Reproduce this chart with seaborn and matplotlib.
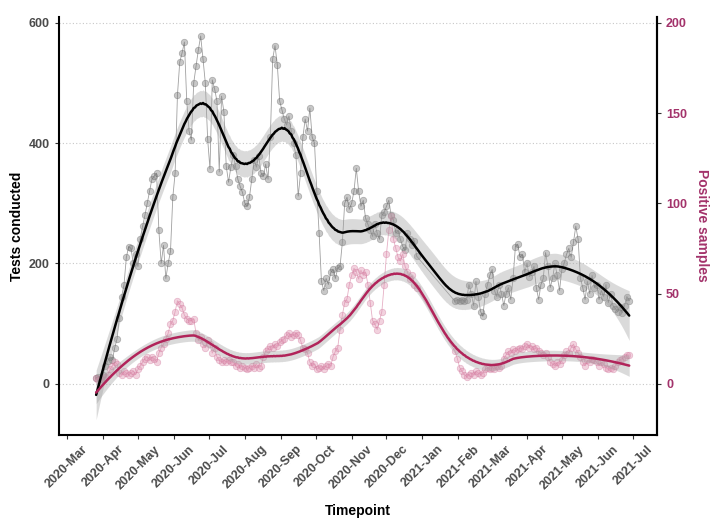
import numpy as np
import pandas as pd
import matplotlib
matplotlib.use("Agg")
import matplotlib.pyplot as plt
import matplotlib.dates as mdates
import seaborn as sns

# sampling dates (every second day); no samples over the new year
dates_2020 = pd.date_range("2020-03-26", "2020-12-27", freq="2D")
dates_2021 = pd.date_range("2021-01-29", "2021-06-28", freq="2D")

tests_2020 = [
    10, 12, 8, 15, 30, 38, 45, 40, 60, 75, 110, 145, 165, 210, 228, 225, 200, 215, 195, 240,
    262, 280, 300, 320, 340, 345, 350, 255, 200, 230, 175, 200, 220, 310, 350, 480, 535, 550, 568, 470,
    420, 405, 500, 528, 555, 578, 540, 500, 407, 357, 505, 490, 470, 352, 478, 452, 362, 335, 360, 380,
    362, 340, 328, 318, 300, 295, 310, 340, 372, 360, 378, 350, 345, 365, 340, 410, 540, 562, 530, 470,
    455, 440, 430, 445, 420, 400, 380, 312, 350, 410, 440, 420, 458, 410, 400, 320, 250, 170, 155, 175,
    165, 185, 190, 175, 192, 195, 235, 300, 310, 290, 300, 320, 358, 320, 295, 305, 275, 265, 255, 245,
    265, 250, 240, 280, 285, 295, 305, 280, 272, 250, 255, 240, 228, 222, 250, 240, 230, 238, 212,
]
tests_2021 = [
    137, 140, 138, 140, 137, 140, 165, 150, 130, 170, 145, 120, 112, 150, 165, 180, 190, 155, 145, 165,
    150, 130, 150, 160, 140, 175, 228, 232, 210, 215, 185, 200, 178, 185, 195, 160, 140, 165, 175, 218,
    195, 160, 175, 200, 180, 155, 190, 200, 215, 225, 210, 235, 262, 240, 175, 160, 140, 170, 150, 180,
    160, 165, 140, 155, 145, 165, 135, 150, 130, 125, 120, 128, 118, 130, 145, 138,
]
positives_2020 = [
    3, 2, 3, 2, 4, 5, 8, 10, 12, 11, 6, 5, 7, 6, 5, 6, 7, 5, 8, 10,
    12, 14, 15, 13, 15, 14, 12, 17, 20, 22, 25, 28, 33, 35, 40, 46, 44, 42, 38, 36,
    35, 35, 36, 28, 24, 26, 22, 20, 24, 22, 17, 20, 15, 13, 12, 13, 12, 13, 12, 12,
    10, 11, 9, 10, 9, 8, 9, 10, 9, 11, 9, 10, 15, 18, 19, 21, 20, 22, 21, 23,
    24, 25, 27, 28, 26, 27, 28, 27, 24, 20, 19, 17, 12, 10, 11, 8, 9, 10, 8, 10,
    11, 10, 15, 18, 20, 30, 38, 45, 47, 55, 60, 64, 62, 58, 63, 60, 62, 55, 45, 35,
    33, 30, 35, 40, 55, 72, 85, 93, 80, 75, 70, 68, 72, 65, 62, 58, 60, 55, 53,
]
positives_2021 = [
    18, 14, 9, 7, 5, 4, 5, 6, 5, 7, 6, 5, 6, 8, 9, 8, 9, 8, 10, 9,
    10, 14, 16, 18, 17, 19, 18, 19, 20, 19, 21, 22, 20, 21, 19, 20, 18, 17, 16, 17,
    15, 12, 11, 10, 12, 11, 13, 16, 18, 17, 20, 22, 19, 17, 15, 12, 10, 13, 12, 14,
    13, 12, 10, 12, 11, 9, 8, 9, 8, 10, 12, 13, 14, 15, 16, 16,
]

SCALE = 3  # positives share the axis with tests (secondary axis = tests / 3)

df = pd.DataFrame({
    "date": dates_2020.append(dates_2021),
    "tests": tests_2020 + tests_2021,
    "positives": positives_2020 + positives_2021,
})
df["positives_scaled"] = df["positives"] * SCALE


def loess(x, y, grid, span):
    # local quadratic fit with tricube weights (like R's loess) + 95% band
    q = int(np.ceil(span * len(x)))

    def weights(g):
        d = np.abs(x - g)
        h = np.sort(d)[q - 1]
        w = np.clip(1 - (d / h) ** 3, 0, None) ** 3
        X = np.vander(x - g, 3, increasing=True)
        W = X.T * w
        return np.linalg.solve(W @ X, W)[0]

    L = np.array([weights(g) for g in x])
    resid = y - L @ y
    dof = len(y) - 2 * np.trace(L) + np.trace(L.T @ L)
    sigma = np.sqrt(resid @ resid / dof)
    fit, se = [], []
    for g in grid:
        l = weights(g)
        fit.append(l @ y)
        se.append(sigma * np.sqrt(l @ l))
    fit, se = np.array(fit), np.array(se)
    return fit, fit - 1.96 * se, fit + 1.96 * se


day = (df["date"] - df["date"].min()).dt.days.to_numpy(dtype=float)
grid_day = np.linspace(day.min(), day.max(), 400)
grid_date = df["date"].min() + pd.to_timedelta(grid_day, unit="D")

t_fit, t_lo, t_hi = loess(day, df["tests"].to_numpy(float), grid_day, 0.3)
p_fit, p_lo, p_hi = loess(day, df["positives_scaled"].to_numpy(float), grid_day, 0.4)
smooth = pd.DataFrame({"date": grid_date, "tests": t_fit, "positives": p_fit})

sns.set_theme(style="white")
plt.rcParams["font.family"] = ["Liberation Sans", "DejaVu Sans"]
plt.rcParams["font.weight"] = "bold"

fig, ax = plt.subplots(figsize=(7.15, 5.24), dpi=100)
fig.subplots_adjust(left=0.0825, right=0.919, bottom=0.17, top=0.968)

for v in [0, 200, 400, 600]:
    ax.axhline(v, color="#c8c8c8", ls=(0, (1, 2)), lw=0.8, zorder=0)

# raw data: thin connecting lines + translucent points
sns.lineplot(data=df, x="date", y="tests", ax=ax, color="#a0a0a0", lw=0.6, zorder=1)
sns.scatterplot(data=df, x="date", y="tests", ax=ax, color="#7a7a7a", alpha=0.42,
                s=22, edgecolor="#5a5a5a", linewidth=0.5, zorder=2)
sns.lineplot(data=df, x="date", y="positives_scaled", ax=ax, color="#e6b0c5", lw=0.6, zorder=1)
sns.scatterplot(data=df, x="date", y="positives_scaled", ax=ax, color="#e094b2", alpha=0.42,
                s=22, edgecolor="#cc6e94", linewidth=0.5, zorder=2)

# smoothed trends with confidence bands
ax.fill_between(grid_date, t_lo, t_hi, color="#a0a0a0", alpha=0.38, lw=0, zorder=3)
ax.fill_between(grid_date, p_lo, p_hi, color="#a0a0a0", alpha=0.38, lw=0, zorder=3)
sns.lineplot(data=smooth, x="date", y="tests", ax=ax, color="black", lw=1.8, zorder=4)
sns.lineplot(data=smooth, x="date", y="positives", ax=ax, color="#b1245a", lw=1.8, zorder=4)

ax.set_xlim(pd.Timestamp("2020-02-23"), pd.Timestamp("2021-07-22"))
ax.set_ylim(-85, 610)
ax.set_yticks([0, 200, 400, 600])
ax.xaxis.set_major_locator(mdates.MonthLocator())
ax.xaxis.set_major_formatter(mdates.DateFormatter("%Y-%b"))

ax.tick_params(axis="both", which="major", length=3, width=0.8,
               color="#333333", labelcolor="#4a4a4a", bottom=True, left=True)
ax.tick_params(axis="x", labelsize=9, pad=3)
ax.tick_params(axis="y", labelsize=9)
for lab in ax.get_xticklabels():
    lab.set_rotation(45)
    lab.set_ha("center")
    lab.set_fontweight("bold")
for lab in ax.get_yticklabels():
    lab.set_fontweight("bold")

for side in ["left", "bottom", "right"]:
    ax.spines[side].set_visible(True)
    ax.spines[side].set_color("black")
    ax.spines[side].set_linewidth(1.5)
ax.spines["top"].set_visible(False)

ax.set_xlabel("Timepoint", fontsize=10, fontweight="bold", color="black")
ax.xaxis.set_label_coords(0.5, -0.165)
ax.set_ylabel("Tests conducted", fontsize=10, fontweight="bold", color="black")
ax.yaxis.set_label_coords(-0.058, 0.5)

pink = "#a3336b"
sec = ax.secondary_yaxis("right", functions=(lambda v: v / SCALE, lambda v: v * SCALE))
sec.set_yticks([0, 50, 100, 150, 200])
sec.tick_params(length=3, width=0.8, labelsize=9, color="#333333", labelcolor=pink)
for lab in sec.get_yticklabels():
    lab.set_fontweight("bold")
sec.spines["right"].set_linewidth(1.5)
sec.set_ylabel("Positive samples", fontsize=10, fontweight="bold", color=pink,
               rotation=270, labelpad=16)

fig.savefig("out.png", dpi=100)
